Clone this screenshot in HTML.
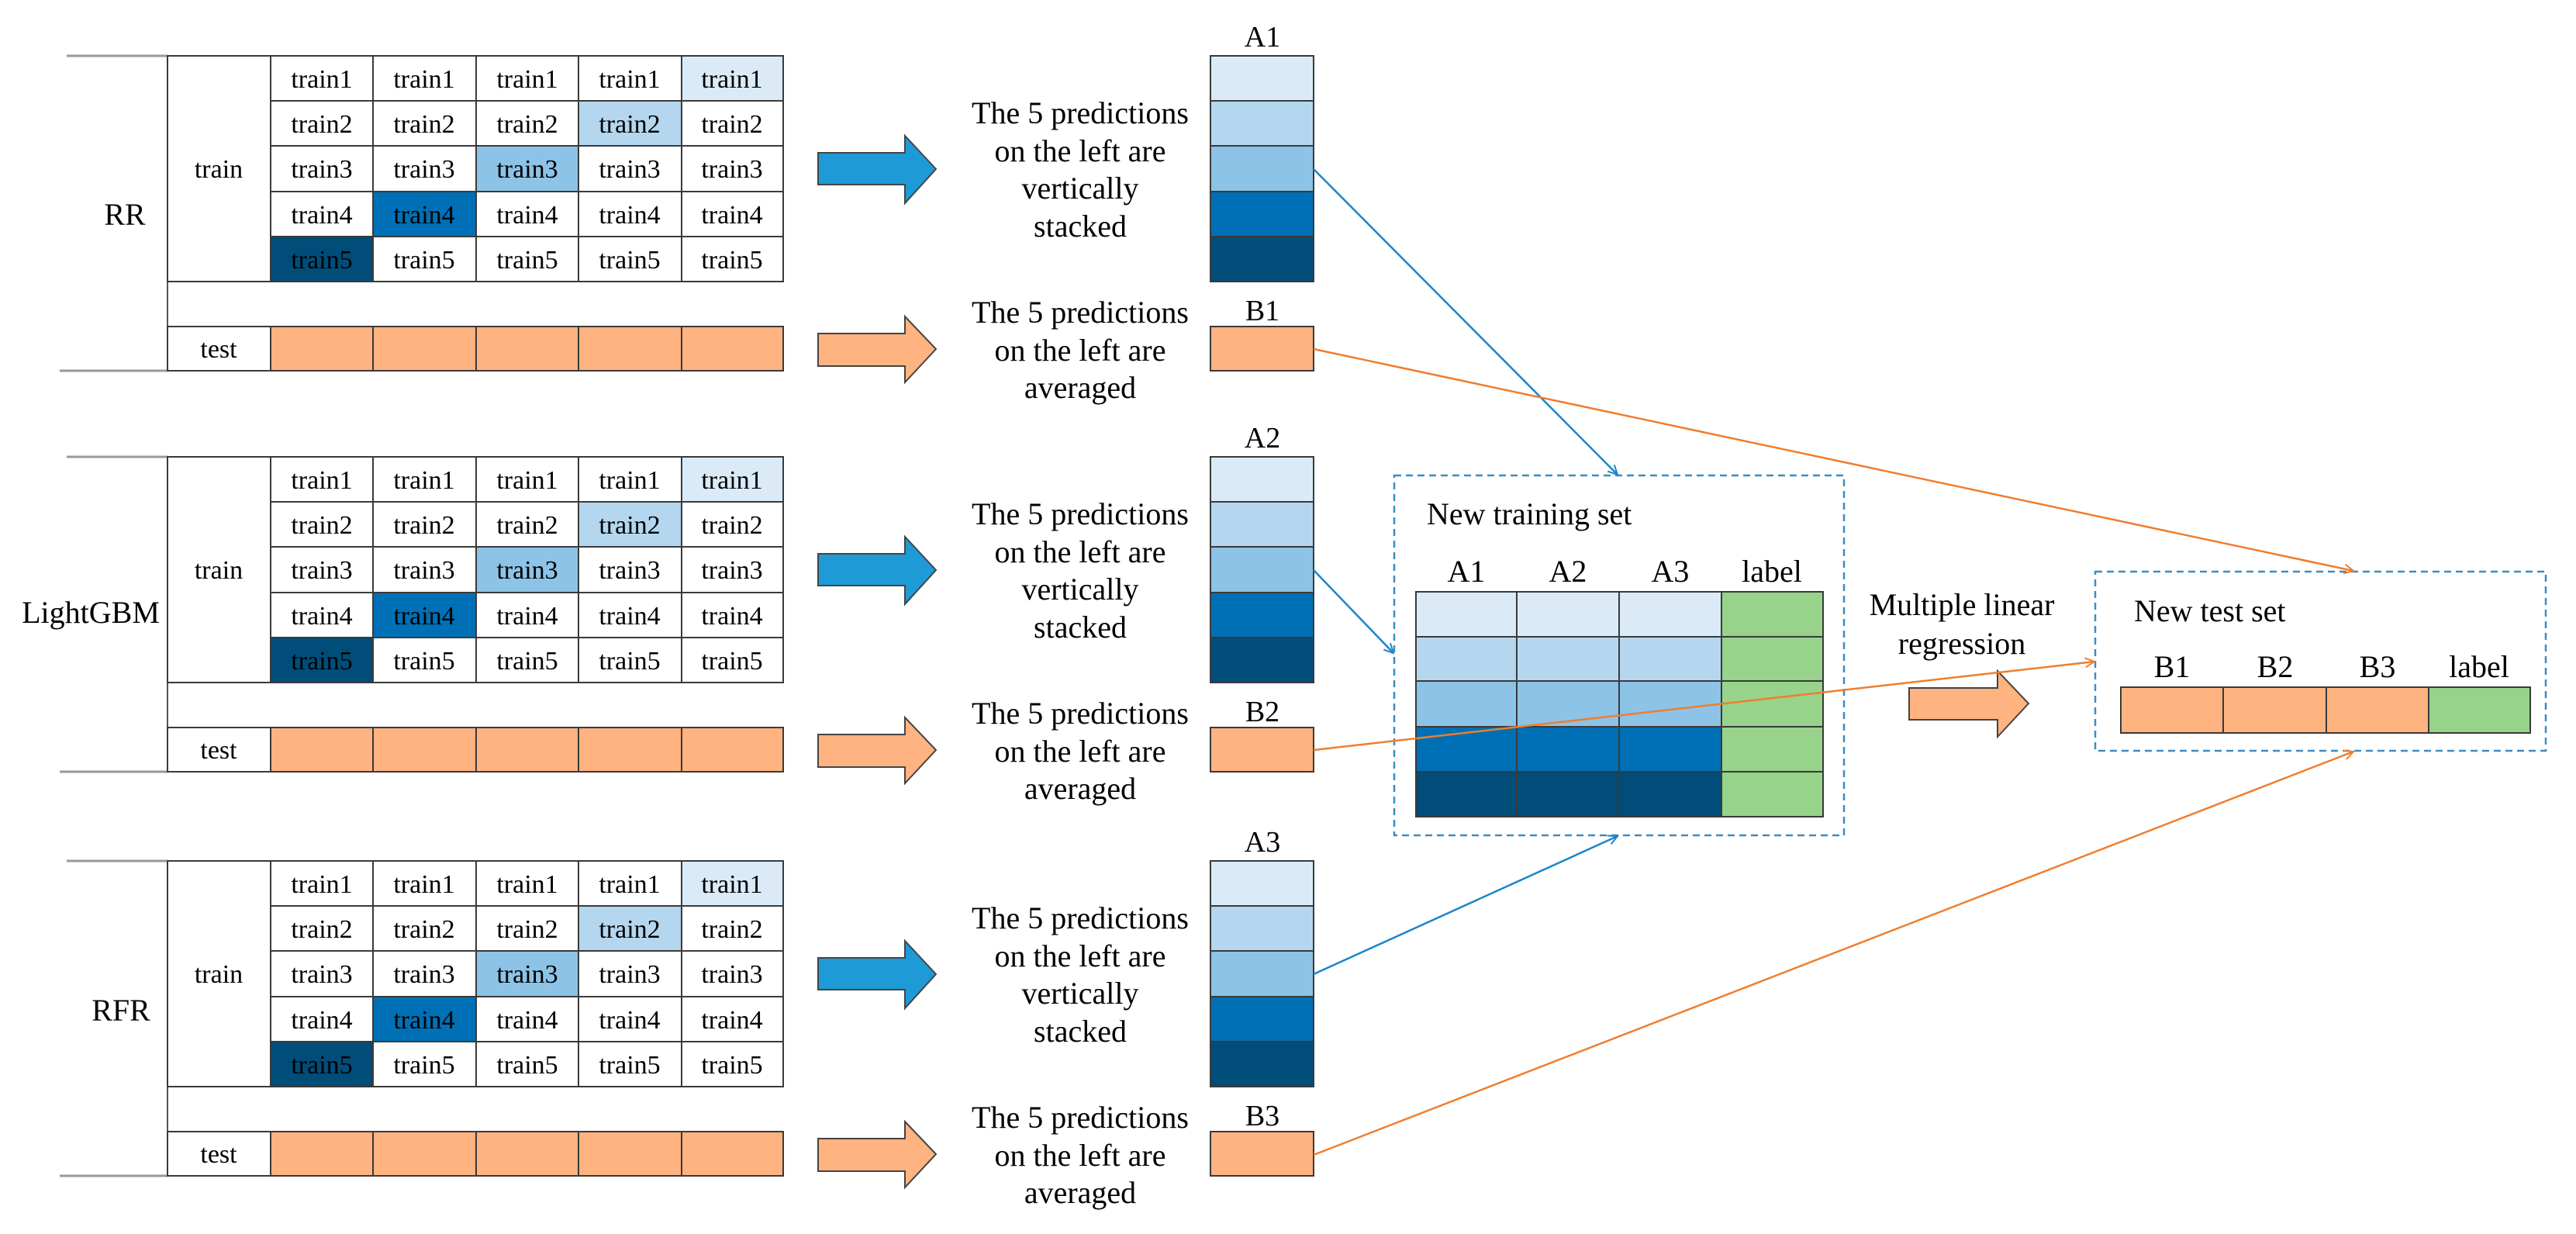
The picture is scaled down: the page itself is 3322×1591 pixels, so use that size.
<!DOCTYPE html>
<html><head><meta charset="utf-8"><style>
html,body{margin:0;padding:0;background:#fff;font-family:"Liberation Serif",serif;}
svg{display:block;font-family:"Liberation Serif",serif;}
text{font-family:"Liberation Serif",serif;fill:#000;}
.c{font-size:34px;text-anchor:middle;}
.t{font-size:40px;text-anchor:middle;}
.g rect{stroke:#3a3a3a;stroke-width:2;}
</style></head><body>
<svg width="3322" height="1591" viewBox="0 0 3322 1591" xmlns="http://www.w3.org/2000/svg" font-family="Liberation Serif, serif">
<defs>
<marker id="ab" markerWidth="16" markerHeight="16" refX="14" refY="8" orient="auto" markerUnits="userSpaceOnUse"><path d="M2,2 L14,8 L2,14" fill="none" stroke="#1a86c8" stroke-width="2"/></marker>
<marker id="ao" markerWidth="16" markerHeight="16" refX="14" refY="8" orient="auto" markerUnits="userSpaceOnUse"><path d="M2,2 L14,8 L2,14" fill="none" stroke="#f07d2d" stroke-width="2"/></marker>
</defs>

<svg x="0" y="72" width="3322" height="520" overflow="visible" font-family="Liberation Serif, serif">
  <line x1="86" y1="0" x2="216" y2="0" stroke="#999" stroke-width="3"/>
  <line x1="77" y1="406" x2="216" y2="406" stroke="#999" stroke-width="3"/>
  <line x1="216" y1="0" x2="216" y2="406" stroke="#555" stroke-width="2"/>
  <g class="g">
    <rect x="216" y="0" width="133" height="291" fill="#fff"/>
    <rect x="349" y="0" width="132" height="58" fill="#fff"/><rect x="481" y="0" width="133" height="58" fill="#fff"/><rect x="614" y="0" width="132" height="58" fill="#fff"/><rect x="746" y="0" width="133" height="58" fill="#fff"/><rect x="879" y="0" width="131" height="58" fill="#daebf7"/>
    <rect x="349" y="58" width="132" height="58" fill="#fff"/><rect x="481" y="58" width="133" height="58" fill="#fff"/><rect x="614" y="58" width="132" height="58" fill="#fff"/><rect x="746" y="58" width="133" height="58" fill="#b4d7ef"/><rect x="879" y="58" width="131" height="58" fill="#fff"/>
    <rect x="349" y="116" width="132" height="59" fill="#fff"/><rect x="481" y="116" width="133" height="59" fill="#fff"/><rect x="614" y="116" width="132" height="59" fill="#8dc3e6"/><rect x="746" y="116" width="133" height="59" fill="#fff"/><rect x="879" y="116" width="131" height="59" fill="#fff"/>
    <rect x="349" y="175" width="132" height="58" fill="#fff"/><rect x="481" y="175" width="133" height="58" fill="#0070b6"/><rect x="614" y="175" width="132" height="58" fill="#fff"/><rect x="746" y="175" width="133" height="58" fill="#fff"/><rect x="879" y="175" width="131" height="58" fill="#fff"/>
    <rect x="349" y="233" width="132" height="58" fill="#004d7a"/><rect x="481" y="233" width="133" height="58" fill="#fff"/><rect x="614" y="233" width="132" height="58" fill="#fff"/><rect x="746" y="233" width="133" height="58" fill="#fff"/><rect x="879" y="233" width="131" height="58" fill="#fff"/>
    <rect x="216" y="349" width="133" height="57" fill="#fff"/>
    <rect x="349" y="349" width="132" height="57" fill="#ffb380"/><rect x="481" y="349" width="133" height="57" fill="#ffb380"/><rect x="614" y="349" width="132" height="57" fill="#ffb380"/><rect x="746" y="349" width="133" height="57" fill="#ffb380"/><rect x="879" y="349" width="131" height="57" fill="#ffb380"/>
    <rect x="1561" y="0" width="133" height="58" fill="#daebf7"/><rect x="1561" y="58" width="133" height="58" fill="#b4d7ef"/><rect x="1561" y="116" width="133" height="59" fill="#8dc3e6"/><rect x="1561" y="175" width="133" height="58" fill="#0070b6"/><rect x="1561" y="233" width="133" height="58" fill="#004d7a"/>
    <rect x="1561" y="349" width="133" height="57" fill="#ffb380"/>
  </g>
  <text class="c" x="282" y="157">train</text>
  <text class="c" x="282" y="389">test</text>
  <text class="c" x="415" y="41">train1</text><text class="c" x="547" y="41">train1</text><text class="c" x="680" y="41">train1</text><text class="c" x="812" y="41">train1</text><text class="c" x="944" y="41">train1</text>
  <text class="c" x="415" y="99">train2</text><text class="c" x="547" y="99">train2</text><text class="c" x="680" y="99">train2</text><text class="c" x="812" y="99">train2</text><text class="c" x="944" y="99">train2</text>
  <text class="c" x="415" y="157">train3</text><text class="c" x="547" y="157">train3</text><text class="c" x="680" y="157">train3</text><text class="c" x="812" y="157">train3</text><text class="c" x="944" y="157">train3</text>
  <text class="c" x="415" y="216">train4</text><text class="c" x="547" y="216">train4</text><text class="c" x="680" y="216">train4</text><text class="c" x="812" y="216">train4</text><text class="c" x="944" y="216">train4</text>
  <text class="c" x="415" y="274">train5</text><text class="c" x="547" y="274">train5</text><text class="c" x="680" y="274">train5</text><text class="c" x="812" y="274">train5</text><text class="c" x="944" y="274">train5</text>
  <polygon points="1055,125 1167,125 1167,103 1207,146 1167,190 1167,166 1055,166" fill="#1e9bd7" stroke="#444" stroke-width="2"/>
  <polygon points="1055,358 1167,358 1167,336 1207,378 1167,421 1167,400 1055,400" fill="#ffb380" stroke="#444" stroke-width="2"/>
  <text class="t" x="1393" y="87">The 5 predictions</text>
  <text class="t" x="1393" y="136">on the left are</text>
  <text class="t" x="1393" y="184">vertically</text>
  <text class="t" x="1393" y="233">stacked</text>
  <text class="t" x="1393" y="344">The 5 predictions</text>
  <text class="t" x="1393" y="393">on the left are</text>
  <text class="t" x="1393" y="441">averaged</text>
</svg>

<svg x="0" y="589" width="3322" height="520" overflow="visible" font-family="Liberation Serif, serif">
  <line x1="86" y1="0" x2="216" y2="0" stroke="#999" stroke-width="3"/>
  <line x1="77" y1="406" x2="216" y2="406" stroke="#999" stroke-width="3"/>
  <line x1="216" y1="0" x2="216" y2="406" stroke="#555" stroke-width="2"/>
  <g class="g">
    <rect x="216" y="0" width="133" height="291" fill="#fff"/>
    <rect x="349" y="0" width="132" height="58" fill="#fff"/><rect x="481" y="0" width="133" height="58" fill="#fff"/><rect x="614" y="0" width="132" height="58" fill="#fff"/><rect x="746" y="0" width="133" height="58" fill="#fff"/><rect x="879" y="0" width="131" height="58" fill="#daebf7"/>
    <rect x="349" y="58" width="132" height="58" fill="#fff"/><rect x="481" y="58" width="133" height="58" fill="#fff"/><rect x="614" y="58" width="132" height="58" fill="#fff"/><rect x="746" y="58" width="133" height="58" fill="#b4d7ef"/><rect x="879" y="58" width="131" height="58" fill="#fff"/>
    <rect x="349" y="116" width="132" height="59" fill="#fff"/><rect x="481" y="116" width="133" height="59" fill="#fff"/><rect x="614" y="116" width="132" height="59" fill="#8dc3e6"/><rect x="746" y="116" width="133" height="59" fill="#fff"/><rect x="879" y="116" width="131" height="59" fill="#fff"/>
    <rect x="349" y="175" width="132" height="58" fill="#fff"/><rect x="481" y="175" width="133" height="58" fill="#0070b6"/><rect x="614" y="175" width="132" height="58" fill="#fff"/><rect x="746" y="175" width="133" height="58" fill="#fff"/><rect x="879" y="175" width="131" height="58" fill="#fff"/>
    <rect x="349" y="233" width="132" height="58" fill="#004d7a"/><rect x="481" y="233" width="133" height="58" fill="#fff"/><rect x="614" y="233" width="132" height="58" fill="#fff"/><rect x="746" y="233" width="133" height="58" fill="#fff"/><rect x="879" y="233" width="131" height="58" fill="#fff"/>
    <rect x="216" y="349" width="133" height="57" fill="#fff"/>
    <rect x="349" y="349" width="132" height="57" fill="#ffb380"/><rect x="481" y="349" width="133" height="57" fill="#ffb380"/><rect x="614" y="349" width="132" height="57" fill="#ffb380"/><rect x="746" y="349" width="133" height="57" fill="#ffb380"/><rect x="879" y="349" width="131" height="57" fill="#ffb380"/>
    <rect x="1561" y="0" width="133" height="58" fill="#daebf7"/><rect x="1561" y="58" width="133" height="58" fill="#b4d7ef"/><rect x="1561" y="116" width="133" height="59" fill="#8dc3e6"/><rect x="1561" y="175" width="133" height="58" fill="#0070b6"/><rect x="1561" y="233" width="133" height="58" fill="#004d7a"/>
    <rect x="1561" y="349" width="133" height="57" fill="#ffb380"/>
  </g>
  <text class="c" x="282" y="157">train</text>
  <text class="c" x="282" y="389">test</text>
  <text class="c" x="415" y="41">train1</text><text class="c" x="547" y="41">train1</text><text class="c" x="680" y="41">train1</text><text class="c" x="812" y="41">train1</text><text class="c" x="944" y="41">train1</text>
  <text class="c" x="415" y="99">train2</text><text class="c" x="547" y="99">train2</text><text class="c" x="680" y="99">train2</text><text class="c" x="812" y="99">train2</text><text class="c" x="944" y="99">train2</text>
  <text class="c" x="415" y="157">train3</text><text class="c" x="547" y="157">train3</text><text class="c" x="680" y="157">train3</text><text class="c" x="812" y="157">train3</text><text class="c" x="944" y="157">train3</text>
  <text class="c" x="415" y="216">train4</text><text class="c" x="547" y="216">train4</text><text class="c" x="680" y="216">train4</text><text class="c" x="812" y="216">train4</text><text class="c" x="944" y="216">train4</text>
  <text class="c" x="415" y="274">train5</text><text class="c" x="547" y="274">train5</text><text class="c" x="680" y="274">train5</text><text class="c" x="812" y="274">train5</text><text class="c" x="944" y="274">train5</text>
  <polygon points="1055,125 1167,125 1167,103 1207,146 1167,190 1167,166 1055,166" fill="#1e9bd7" stroke="#444" stroke-width="2"/>
  <polygon points="1055,358 1167,358 1167,336 1207,378 1167,421 1167,400 1055,400" fill="#ffb380" stroke="#444" stroke-width="2"/>
  <text class="t" x="1393" y="87">The 5 predictions</text>
  <text class="t" x="1393" y="136">on the left are</text>
  <text class="t" x="1393" y="184">vertically</text>
  <text class="t" x="1393" y="233">stacked</text>
  <text class="t" x="1393" y="344">The 5 predictions</text>
  <text class="t" x="1393" y="393">on the left are</text>
  <text class="t" x="1393" y="441">averaged</text>
</svg>

<svg x="0" y="1110" width="3322" height="481" overflow="visible" font-family="Liberation Serif, serif">
  <line x1="86" y1="0" x2="216" y2="0" stroke="#999" stroke-width="3"/>
  <line x1="77" y1="406" x2="216" y2="406" stroke="#999" stroke-width="3"/>
  <line x1="216" y1="0" x2="216" y2="406" stroke="#555" stroke-width="2"/>
  <g class="g">
    <rect x="216" y="0" width="133" height="291" fill="#fff"/>
    <rect x="349" y="0" width="132" height="58" fill="#fff"/><rect x="481" y="0" width="133" height="58" fill="#fff"/><rect x="614" y="0" width="132" height="58" fill="#fff"/><rect x="746" y="0" width="133" height="58" fill="#fff"/><rect x="879" y="0" width="131" height="58" fill="#daebf7"/>
    <rect x="349" y="58" width="132" height="58" fill="#fff"/><rect x="481" y="58" width="133" height="58" fill="#fff"/><rect x="614" y="58" width="132" height="58" fill="#fff"/><rect x="746" y="58" width="133" height="58" fill="#b4d7ef"/><rect x="879" y="58" width="131" height="58" fill="#fff"/>
    <rect x="349" y="116" width="132" height="59" fill="#fff"/><rect x="481" y="116" width="133" height="59" fill="#fff"/><rect x="614" y="116" width="132" height="59" fill="#8dc3e6"/><rect x="746" y="116" width="133" height="59" fill="#fff"/><rect x="879" y="116" width="131" height="59" fill="#fff"/>
    <rect x="349" y="175" width="132" height="58" fill="#fff"/><rect x="481" y="175" width="133" height="58" fill="#0070b6"/><rect x="614" y="175" width="132" height="58" fill="#fff"/><rect x="746" y="175" width="133" height="58" fill="#fff"/><rect x="879" y="175" width="131" height="58" fill="#fff"/>
    <rect x="349" y="233" width="132" height="58" fill="#004d7a"/><rect x="481" y="233" width="133" height="58" fill="#fff"/><rect x="614" y="233" width="132" height="58" fill="#fff"/><rect x="746" y="233" width="133" height="58" fill="#fff"/><rect x="879" y="233" width="131" height="58" fill="#fff"/>
    <rect x="216" y="349" width="133" height="57" fill="#fff"/>
    <rect x="349" y="349" width="132" height="57" fill="#ffb380"/><rect x="481" y="349" width="133" height="57" fill="#ffb380"/><rect x="614" y="349" width="132" height="57" fill="#ffb380"/><rect x="746" y="349" width="133" height="57" fill="#ffb380"/><rect x="879" y="349" width="131" height="57" fill="#ffb380"/>
    <rect x="1561" y="0" width="133" height="58" fill="#daebf7"/><rect x="1561" y="58" width="133" height="58" fill="#b4d7ef"/><rect x="1561" y="116" width="133" height="59" fill="#8dc3e6"/><rect x="1561" y="175" width="133" height="58" fill="#0070b6"/><rect x="1561" y="233" width="133" height="58" fill="#004d7a"/>
    <rect x="1561" y="349" width="133" height="57" fill="#ffb380"/>
  </g>
  <text class="c" x="282" y="157">train</text>
  <text class="c" x="282" y="389">test</text>
  <text class="c" x="415" y="41">train1</text><text class="c" x="547" y="41">train1</text><text class="c" x="680" y="41">train1</text><text class="c" x="812" y="41">train1</text><text class="c" x="944" y="41">train1</text>
  <text class="c" x="415" y="99">train2</text><text class="c" x="547" y="99">train2</text><text class="c" x="680" y="99">train2</text><text class="c" x="812" y="99">train2</text><text class="c" x="944" y="99">train2</text>
  <text class="c" x="415" y="157">train3</text><text class="c" x="547" y="157">train3</text><text class="c" x="680" y="157">train3</text><text class="c" x="812" y="157">train3</text><text class="c" x="944" y="157">train3</text>
  <text class="c" x="415" y="216">train4</text><text class="c" x="547" y="216">train4</text><text class="c" x="680" y="216">train4</text><text class="c" x="812" y="216">train4</text><text class="c" x="944" y="216">train4</text>
  <text class="c" x="415" y="274">train5</text><text class="c" x="547" y="274">train5</text><text class="c" x="680" y="274">train5</text><text class="c" x="812" y="274">train5</text><text class="c" x="944" y="274">train5</text>
  <polygon points="1055,125 1167,125 1167,103 1207,146 1167,190 1167,166 1055,166" fill="#1e9bd7" stroke="#444" stroke-width="2"/>
  <polygon points="1055,358 1167,358 1167,336 1207,378 1167,421 1167,400 1055,400" fill="#ffb380" stroke="#444" stroke-width="2"/>
  <text class="t" x="1393" y="87">The 5 predictions</text>
  <text class="t" x="1393" y="136">on the left are</text>
  <text class="t" x="1393" y="184">vertically</text>
  <text class="t" x="1393" y="233">stacked</text>
  <text class="t" x="1393" y="344">The 5 predictions</text>
  <text class="t" x="1393" y="393">on the left are</text>
  <text class="t" x="1393" y="441">averaged</text>
</svg>

<text class="t" x="161" y="290">RR</text>
<text class="t" x="117" y="803">LightGBM</text>
<text class="t" x="156" y="1316">RFR</text>

<text class="t" x="1628" y="60" style="font-size:38px">A1</text>
<text class="t" x="1628" y="413" style="font-size:38px">B1</text>
<text class="t" x="1628" y="577" style="font-size:38px">A2</text>
<text class="t" x="1628" y="930" style="font-size:38px">B2</text>
<text class="t" x="1628" y="1098" style="font-size:38px">A3</text>
<text class="t" x="1628" y="1451" style="font-size:38px">B3</text>

<rect x="1798" y="613" width="580" height="464" fill="none" stroke="#3c8cc4" stroke-width="2.5" stroke-dasharray="9,6"/>
<text x="1840" y="676" style="font-size:40px">New training set</text>
<text class="t" x="1891" y="750">A1</text><text class="t" x="2022" y="750">A2</text><text class="t" x="2154" y="750">A3</text><text class="t" x="2285" y="750">label</text>
<g class="g">
<rect x="1826" y="763" width="130" height="58" fill="#daebf7"/><rect x="1956" y="763" width="132" height="58" fill="#daebf7"/><rect x="2088" y="763" width="132" height="58" fill="#daebf7"/><rect x="2220" y="763" width="131" height="58" fill="#97d38a"/>
<rect x="1826" y="821" width="130" height="57" fill="#b4d7ef"/><rect x="1956" y="821" width="132" height="57" fill="#b4d7ef"/><rect x="2088" y="821" width="132" height="57" fill="#b4d7ef"/><rect x="2220" y="821" width="131" height="57" fill="#97d38a"/>
<rect x="1826" y="878" width="130" height="59" fill="#8dc3e6"/><rect x="1956" y="878" width="132" height="59" fill="#8dc3e6"/><rect x="2088" y="878" width="132" height="59" fill="#8dc3e6"/><rect x="2220" y="878" width="131" height="59" fill="#97d38a"/>
<rect x="1826" y="937" width="130" height="58" fill="#0070b6"/><rect x="1956" y="937" width="132" height="58" fill="#0070b6"/><rect x="2088" y="937" width="132" height="58" fill="#0070b6"/><rect x="2220" y="937" width="131" height="58" fill="#97d38a"/>
<rect x="1826" y="995" width="130" height="58" fill="#004d7a"/><rect x="1956" y="995" width="132" height="58" fill="#004d7a"/><rect x="2088" y="995" width="132" height="58" fill="#004d7a"/><rect x="2220" y="995" width="131" height="58" fill="#97d38a"/>
</g>

<text class="t" x="2530" y="793">Multiple linear</text>
<text class="t" x="2530" y="843">regression</text>
<polygon points="2462,887 2576,887 2576,865 2616,907 2576,950 2576,928 2462,928" fill="#ffb380" stroke="#444" stroke-width="2"/>

<rect x="2702" y="737" width="581" height="231" fill="none" stroke="#3c8cc4" stroke-width="2.5" stroke-dasharray="9,6"/>
<text x="2752" y="801" style="font-size:40px">New test set</text>
<text class="t" x="2801" y="873">B1</text><text class="t" x="2934" y="873">B2</text><text class="t" x="3066" y="873">B3</text><text class="t" x="3197" y="873">label</text>
<g class="g">
<rect x="2735" y="886" width="132" height="59" fill="#ffb380"/><rect x="2867" y="886" width="133" height="59" fill="#ffb380"/><rect x="3000" y="886" width="132" height="59" fill="#ffb380"/><rect x="3132" y="886" width="131" height="59" fill="#97d38a"/>
</g>

<line x1="1694" y1="218" x2="2086" y2="612" stroke="#1a86c8" stroke-width="2.5" marker-end="url(#ab)"/>
<line x1="1694" y1="735" x2="1797" y2="842" stroke="#1a86c8" stroke-width="2.5" marker-end="url(#ab)"/>
<line x1="1694" y1="1256" x2="2086" y2="1078" stroke="#1a86c8" stroke-width="2.5" marker-end="url(#ab)"/>
<line x1="1694" y1="450" x2="3035" y2="736" stroke="#f07d2d" stroke-width="2.5" marker-end="url(#ao)"/>
<line x1="1694" y1="967" x2="2701" y2="853" stroke="#f07d2d" stroke-width="2.5" marker-end="url(#ao)"/>
<line x1="1694" y1="1489" x2="3035" y2="969" stroke="#f07d2d" stroke-width="2.5" marker-end="url(#ao)"/>
</svg>
</body></html>
